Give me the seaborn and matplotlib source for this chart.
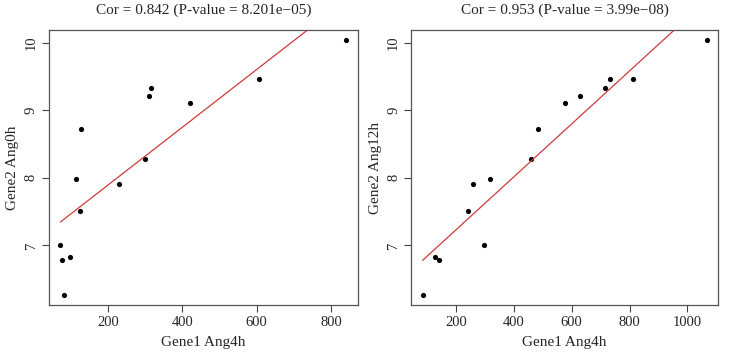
import numpy as np
import pandas as pd
import seaborn as sns
import matplotlib
matplotlib.use("Agg")
import matplotlib.pyplot as plt

# values
gene1_left = [840.8, 606.9, 420.4, 314.8, 312.0, 129.3, 299.5, 115.0, 231.4, 124.7, 72.9, 76.4, 97.9, 81.8]
gene2_left = [10.04, 9.47, 9.11, 9.33, 9.21, 8.72, 8.27, 7.98, 7.91, 7.51, 7.00, 6.77, 6.82, 6.26]

gene1_right = [1066, 810.5, 732.5, 715.3, 628, 577.6, 483.6, 458.2, 318.4, 260.9, 242.7, 296.4, 127.7, 141.5, 85.4]
gene2_right = [10.04, 9.47, 9.47, 9.33, 9.21, 9.11, 8.72, 8.27, 7.98, 7.91, 7.51, 7.00, 6.82, 6.77, 6.26]

titles = ["Cor = 0.842 (P-value = 8.201e\u221205)", "Cor = 0.953 (P-value = 3.99e\u221208)"]
xlabels = ["Gene1 Ang4h", "Gene1 Ang4h"]
ylabels = ["Gene2 Ang0h", "Gene2 Ang12h"]
xticks = [[200, 400, 600, 800], [200, 400, 600, 800, 1000]]
yticks = [7, 8, 9, 10]

sns.set_style("white")
plt.rcParams["font.family"] = ["Liberation Serif", "DejaVu Serif"]

fig = plt.figure(figsize=(7.46, 3.52), dpi=100)
ax1 = fig.add_axes([0.0657, 0.1335, 0.414, 0.781])
ax2 = fig.add_axes([0.5513, 0.1335, 0.411, 0.781])

panels = [(ax1, gene1_left, gene2_left), (ax2, gene1_right, gene2_right)]
for i, (ax, x, y) in enumerate(panels):
    df = pd.DataFrame({"x": x, "y": y})
    sns.regplot(data=df, x="x", y="y", ax=ax, scatter=False, ci=None, truncate=True,
                line_kws={"color": "#d03a3a", "lw": 0.9})
    sns.scatterplot(data=df, x="x", y="y", ax=ax, color="black", s=14, edgecolor="black", linewidth=0)

    xr = max(x) - min(x)
    yr = max(y) - min(y)
    ax.set_xlim(min(x) - 0.04 * xr, max(x) + 0.04 * xr)
    ax.set_ylim(min(y) - 0.04 * yr, max(y) + 0.04 * yr)
    ax.set_xticks(xticks[i])
    ax.set_yticks(yticks)
    ax.set_title(titles[i], fontsize=11, pad=12)
    ax.set_xlabel(xlabels[i], fontsize=11, labelpad=5)
    ax.set_ylabel(ylabels[i], fontsize=11, labelpad=4)
    ax.tick_params(axis="both", direction="out", length=5, width=0.8, color="#444444",
                   labelsize=10.5, left=True, bottom=True, pad=3)
    plt.setp(ax.get_yticklabels(), rotation=90, va="center")
    for s in ax.spines.values():
        s.set_color("#555555")
        s.set_linewidth(0.9)

fig.savefig("out.png", dpi=100)
